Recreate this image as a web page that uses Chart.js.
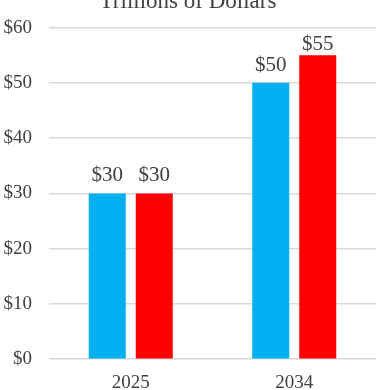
<!DOCTYPE html>
<html>
<head>
<meta charset="utf-8">
<script src="https://cdn.jsdelivr.net/npm/chart.js@4"></script>
<style>
  html, body { margin: 0; padding: 0; background: #fff; }
  #wrap { position: relative; width: 388px; height: 390px; overflow: hidden; }
  #chart { position: absolute; left: 0; top: -12px; }
</style>
</head>
<body>
<div id="wrap"><canvas id="chart" width="388" height="410"></canvas></div>
<script>
// Chart data
const categories = ['2025', '2034'];
const seriesA = [30, 50];
const seriesB = [30, 55];
const yTicks = [0, 10, 20, 30, 40, 50, 60];

const textColor = '#404040';
const serif = "'Liberation Serif', 'Times New Roman', serif";

// Draw value labels above bars (kept inside the plot area)
const valueLabels = {
    id: 'valueLabels',
    afterDatasetsDraw(chart) {
        const ctx = chart.ctx;
        const minY = chart.chartArea.top + 22;
        ctx.save();
        ctx.font = '21px ' + serif;
        ctx.fillStyle = textColor;
        ctx.textAlign = 'center';
        ctx.textBaseline = 'alphabetic';
        chart.data.datasets.forEach((ds, i) => {
            chart.getDatasetMeta(i).data.forEach((bar, j) => {
                ctx.fillText('$' + ds.data[j], bar.x, Math.max(bar.y - 12, minY));
            });
        });
        ctx.restore();
    }
};

new Chart(document.getElementById('chart'), {
    type: 'bar',
    data: {
        labels: categories,
        datasets: [
            { data: seriesA, backgroundColor: '#00B0F0' },
            { data: seriesB, backgroundColor: '#FF0000' }
        ]
    },
    options: {
        responsive: false,
        animation: false,
        categoryPercentage: 0.575,
        barPercentage: 0.787,
        layout: { padding: { left: 0, right: 12, bottom: 0 } },
        plugins: {
            legend: { display: false },
            tooltip: { enabled: false },
            title: {
                display: true,
                text: 'Trillions of Dollars',
                color: textColor,
                font: { family: serif, size: 23, weight: 'normal' },
                padding: { top: 0, bottom: 12 }
            }
        },
        scales: {
            x: {
                grid: { display: false },
                border: { display: false },
                ticks: { color: textColor, font: { family: serif, size: 19 }, padding: 4 }
            },
            y: {
                min: 0,
                max: 60,
                afterBuildTicks(axis) {
                    axis.ticks = yTicks.map(v => ({ value: v }));
                },
                afterFit(axis) {
                    axis.width = 49;
                },
                grid: { color: '#d9d9d9', lineWidth: 1.5, drawTicks: false },
                border: { display: false },
                ticks: {
                    color: textColor,
                    font: { family: serif, size: 19 },
                    padding: 17,
                    callback: v => '$' + v
                }
            }
        }
    },
    plugins: [valueLabels]
});
</script>
</body>
</html>
